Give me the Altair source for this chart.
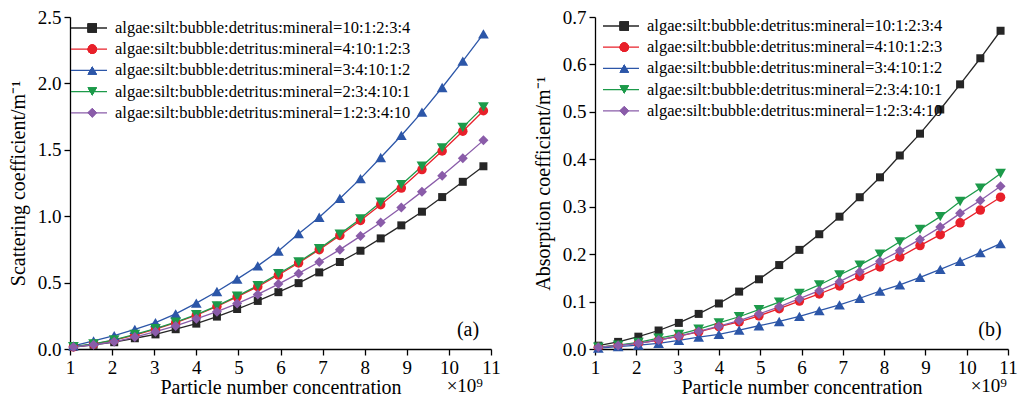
import altair as alt
import pandas as pd

# ---------------- data ----------------
x_vals = [1.08, 1.56, 2.05, 2.54, 3.03, 3.51, 4.00, 4.49, 4.97, 5.46, 5.95,
          6.43, 6.92, 7.41, 7.90, 8.38, 8.87, 9.36, 9.84, 10.33, 10.82]

series = [
    "algae:silt:bubble:detritus:mineral=10:1:2:3:4",
    "algae:silt:bubble:detritus:mineral=4:10:1:2:3",
    "algae:silt:bubble:detritus:mineral=3:4:10:1:2",
    "algae:silt:bubble:detritus:mineral=2:3:4:10:1",
    "algae:silt:bubble:detritus:mineral=1:2:3:4:10",
]

# (a) scattering coefficient
scat_1 = [0.015, 0.032, 0.051, 0.081, 0.110, 0.149, 0.191, 0.244, 0.301, 0.362, 0.428,
          0.496, 0.577, 0.655, 0.740, 0.833, 0.931, 1.034, 1.144, 1.259, 1.376]
scat_2 = [0.015, 0.037, 0.066, 0.105, 0.149, 0.198, 0.254, 0.320, 0.393, 0.469, 0.557,
          0.648, 0.748, 0.855, 0.968, 1.087, 1.212, 1.351, 1.491, 1.640, 1.794]
scat_3 = [0.024, 0.061, 0.100, 0.147, 0.198, 0.264, 0.345, 0.433, 0.526, 0.626, 0.738,
          0.868, 0.992, 1.134, 1.283, 1.442, 1.608, 1.784, 1.969, 2.167, 2.373]
scat_4 = [0.017, 0.039, 0.068, 0.110, 0.154, 0.203, 0.259, 0.325, 0.398, 0.477, 0.567,
          0.655, 0.755, 0.865, 0.980, 1.105, 1.237, 1.376, 1.515, 1.669, 1.823]
scat_5 = [0.015, 0.032, 0.054, 0.090, 0.130, 0.174, 0.227, 0.281, 0.342, 0.411, 0.489,
          0.569, 0.655, 0.748, 0.850, 0.953, 1.066, 1.185, 1.305, 1.437, 1.571]

# (b) absorption coefficient
abs_1 = [0.007, 0.015, 0.026, 0.039, 0.055, 0.074, 0.096, 0.121, 0.147, 0.177, 0.209,
         0.242, 0.279, 0.320, 0.362, 0.408, 0.454, 0.505, 0.558, 0.613, 0.671]
abs_2 = [0.0035, 0.0075, 0.012, 0.019, 0.027, 0.036, 0.047, 0.057, 0.070, 0.085, 0.101,
         0.116, 0.133, 0.153, 0.173, 0.194, 0.218, 0.241, 0.266, 0.293, 0.320]
abs_3 = [0.002, 0.005, 0.008, 0.012, 0.018, 0.025, 0.031, 0.040, 0.049, 0.058, 0.069,
         0.081, 0.093, 0.107, 0.122, 0.135, 0.151, 0.168, 0.185, 0.203, 0.222]
abs_4 = [0.004, 0.008, 0.014, 0.023, 0.031, 0.042, 0.055, 0.068, 0.083, 0.099, 0.117,
         0.135, 0.156, 0.177, 0.200, 0.226, 0.252, 0.279, 0.311, 0.339, 0.370]
abs_5 = [0.0035, 0.0075, 0.012, 0.019, 0.027, 0.037, 0.048, 0.060, 0.074, 0.089, 0.106,
         0.123, 0.142, 0.163, 0.185, 0.207, 0.231, 0.257, 0.286, 0.313, 0.343]

x_ticks = [1, 2, 3, 4, 5, 6, 7, 8, 9, 10, 11]
y_ticks_a = [0.0, 0.5, 1.0, 1.5, 2.0, 2.5]
y_ticks_b = [0.0, 0.1, 0.2, 0.3, 0.4, 0.5, 0.6, 0.7]

colors = ["#262626", "#e8202a", "#2c56a8", "#1c9a4a", "#8a5ca9"]
shapes = ["square", "circle", "triangle-up", "triangle-down", "diamond"]
marker_sizes = [64, 90, 115, 115, 100]

FONT = "Liberation Serif"
H = 332


def long_df(cols):
    rows = []
    for name, vals in zip(series, cols):
        for xv, yv in zip(x_vals, vals):
            rows.append({"x": xv, "y": yv, "series": name, "s2": name})
    return pd.DataFrame(rows)


df_a = long_df([scat_1, scat_2, scat_3, scat_4, scat_5])
df_b = long_df([abs_1, abs_2, abs_3, abs_4, abs_5])


def panel(df, W, ymax, yticks, ytitle, tag, leg_x, leg_y, tag_x, mult_x):
    xs = alt.Scale(domain=[1, 11], nice=False, zero=False)
    ys = alt.Scale(domain=[0, ymax], nice=False)
    xaxis = alt.Axis(values=x_ticks, format="d", title="Particle number concentration",
                     titlePadding=0, labelFont=FONT, titleFont=FONT)
    yaxis = alt.Axis(values=yticks, format=".1f", title=ytitle, titlePadding=9,
                     labelFont=FONT, titleFont=FONT)
    base = alt.Chart(df)
    line_leg = alt.Legend(orient="none", legendX=leg_x, legendY=leg_y, title=None,
                          symbolType="stroke", symbolSize=1296, symbolStrokeWidth=1.3,
                          labelOffset=7, rowPadding=4.2, padding=0, clipHeight=16,
                          labelFont=FONT, labelFontSize=16.5, labelColor="black")
    pt_leg = alt.Legend(orient="none", legendX=leg_x + 14, legendY=leg_y, title=None,
                        symbolSize=85, symbolStrokeWidth=0, labelOffset=7,
                        rowPadding=4.2, padding=0, clipHeight=16, labelExpr="''",
                        labelFont=FONT, labelFontSize=16.5, labelColor="black")
    fill_scale = alt.Scale(domain=series, range=colors)
    shape_scale = alt.Scale(domain=series, range=shapes)
    lines = base.mark_line(strokeWidth=1.3).encode(
        x=alt.X("x:Q", scale=xs, axis=xaxis),
        y=alt.Y("y:Q", scale=ys, axis=yaxis),
        color=alt.Color("series:N", scale=fill_scale, legend=line_leg),
    )
    layers = [lines]
    for name, msize in zip(series, marker_sizes):
        layers.append(
            base.transform_filter(alt.datum.s2 == name)
            .mark_point(filled=True, opacity=1, size=msize)
            .encode(
                x=alt.X("x:Q", scale=xs),
                y=alt.Y("y:Q", scale=ys),
                fill=alt.Fill("s2:N", scale=fill_scale, legend=pt_leg),
                shape=alt.Shape("s2:N", scale=shape_scale, legend=pt_leg),
            )
        )
    tag_txt = alt.Chart(pd.DataFrame({"t": [tag]})).mark_text(
        font=FONT, fontSize=20, color="black", align="center", baseline="middle"
    ).encode(text="t:N", x=alt.value(tag_x), y=alt.value(H - 19))
    mult_txt = alt.Chart(pd.DataFrame({"t": ["×10⁹"]})).mark_text(
        font=FONT, fontSize=19, color="black", align="right", baseline="alphabetic"
    ).encode(text="t:N", x=alt.value(mult_x), y=alt.value(H + 43))
    layers += [tag_txt, mult_txt]
    return alt.layer(*layers).resolve_scale(
        color="independent", fill="independent", shape="independent"
    ).properties(width=W, height=H)


WL, WR = 421, 413
left = panel(df_a, WL, 2.5, y_ticks_a, "Scattering coefficient/m⁻¹", "(a)",
             0, 3, WL - 23, WL - 8)
right = panel(df_b, WR, 0.7, y_ticks_b, "Absorption coefficient/m⁻¹", "(b)",
              7, 1, WR - 18, WR - 1)

chart = alt.hconcat(left, right, spacing=32).resolve_scale(
    color="independent", fill="independent", shape="independent"
).resolve_legend(
    color="independent", fill="independent", shape="independent"
).properties(
    padding={"left": 0, "top": 0, "right": 0, "bottom": 0}
).configure(
    background="white",
).configure_view(
    stroke=None
).configure_axis(
    labelFont=FONT, labelFontSize=19, labelColor="black", labelPadding=3,
    labelFlush=False, labelOverlap=False,
    titleFont=FONT, titleFontSize=20, titleFontWeight="normal", titleColor="black",
    domainColor="black", domainWidth=1.3, tickColor="black", tickSize=6, tickWidth=1.3,
    grid=False,
).configure_legend(
    labelFont=FONT, labelFontSize=16.5, labelLimit=400,
)

chart.save("out.html", embed_options={"renderer": "svg", "actions": False})
